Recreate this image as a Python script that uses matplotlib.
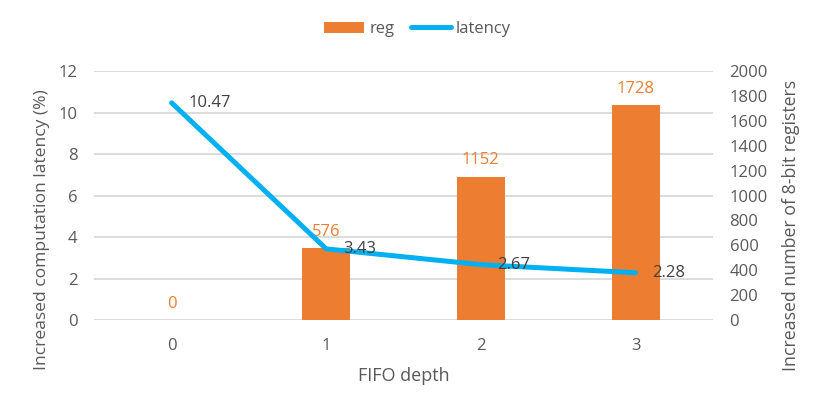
import matplotlib.pyplot as plt

plt.rcParams['font.family'] = ['Open Sans', 'DejaVu Sans']

depth = [0, 1, 2, 3]
reg = [0, 576, 1152, 1728]
latency = [10.47, 3.43, 2.67, 2.28]

orange = '#ED7D31'
blue = '#00B0F0'
gray = '#595959'

fig = plt.figure(figsize=(8.27, 4.13), dpi=100)
ax = fig.add_axes([0.114, 0.225, 0.748, 0.603])
ax.set_ylim(0, 12)
ax.set_yticks(range(0, 13, 2))
ax.set_xlim(-0.5, 3.5)
ax.set_xticks(depth)
ax.grid(axis='y', color='#D9D9D9', linewidth=1.3)
ax.set_axisbelow(True)
for s in ax.spines.values():
    s.set_visible(False)
ax.tick_params(length=0, labelsize=12, colors=gray, pad=12)
ax.tick_params(axis='x', pad=13)
ax.set_ylabel('Increased computation latency (%)', fontsize=12.6, color=gray)
ax.yaxis.set_label_coords(-0.071, 0.365)
ax.set_xlabel('FIFO depth', fontsize=13, color=gray, labelpad=9)

# bars on the right axis
axr = ax.twinx()
axr.set_ylim(0, 2000)
axr.set_yticks(range(0, 2001, 200))
for s in axr.spines.values():
    s.set_visible(False)
axr.tick_params(length=0, labelsize=12, colors=gray, pad=12)
axr.set_ylabel('Increased number of 8-bit registers', fontsize=12.8, color=gray)
axr.yaxis.set_label_coords(1.112, 0.38)
bars = axr.bar(depth, reg, width=0.31, color=orange, label='reg')
for x, v in zip(depth, reg):
    axr.annotate(str(v), (x, v), xytext=(0, 6), textcoords='offset points',
                 ha='center', va='bottom', fontsize=12, color=orange)

# line on top of the bars, latency scale
axl = ax.twinx()
axl.set_ylim(0, 12)
axl.axis('off')
line, = axl.plot(depth, latency, color=blue, linewidth=3.6, solid_capstyle='round',
                 solid_joinstyle='round', label='latency')
for x, v in zip(depth, latency):
    axl.annotate(f'{v:.2f}', (x, v), xytext=(12, 0), textcoords='offset points',
                 ha='left', va='center', fontsize=12, color='#404040')

fig.legend(handles=[bars, line], loc='upper center', bbox_to_anchor=(0.505, 0.985),
           ncol=2, frameon=False, fontsize=12, labelcolor=gray,
           handlelength=2.4, handletextpad=0.3, columnspacing=1.0)

fig.savefig('out.png', dpi=100)
